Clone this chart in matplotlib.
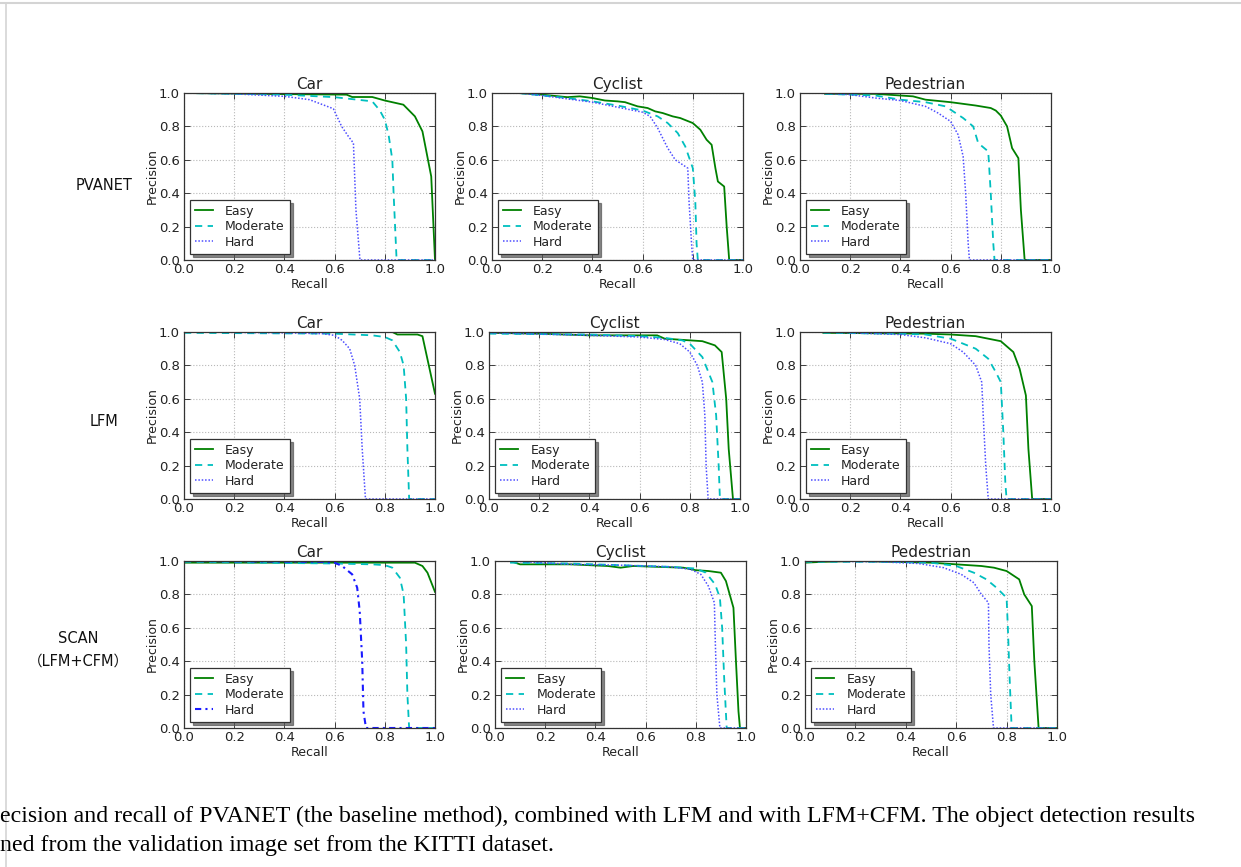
import matplotlib
matplotlib.use('Agg')
import matplotlib.pyplot as plt
from matplotlib.lines import Line2D

# Precision/recall curves, (recall, precision) pairs
# ---- PVANET ----
pvanet_car_easy = [(0, 1.0), (0.3, 0.995), (0.648, 0.99), (0.67, 0.976), (0.75, 0.976),
                   (0.8, 0.955), (0.874, 0.93), (0.92, 0.86), (0.95, 0.77), (0.985, 0.5), (1.0, 0.0)]
pvanet_car_mod = [(0, 1.0), (0.4, 0.99), (0.6, 0.975), (0.75, 0.95), (0.78, 0.896), (0.8, 0.84),
                  (0.815, 0.75), (0.83, 0.6), (0.835, 0.4), (0.847, 0.0), (1.0, 0.0)]
pvanet_car_hard = [(0, 1.0), (0.2, 0.995), (0.4, 0.98), (0.5, 0.96), (0.595, 0.906), (0.628, 0.8),
                   (0.655, 0.74), (0.675, 0.7), (0.685, 0.3), (0.701, 0.0), (1.0, 0.0)]

pvanet_cyc_easy = [(0.106, 1.0), (0.2, 0.99), (0.3, 0.975), (0.35, 0.98), (0.4, 0.97), (0.45, 0.955),
                   (0.5, 0.95), (0.53, 0.945), (0.58, 0.92), (0.62, 0.91), (0.65, 0.89), (0.68, 0.88),
                   (0.72, 0.86), (0.75, 0.85), (0.8, 0.82), (0.83, 0.78), (0.855, 0.72), (0.875, 0.69),
                   (0.89, 0.55), (0.9, 0.47), (0.925, 0.44), (0.935, 0.2), (0.945, 0.0), (1.0, 0.0)]
pvanet_cyc_mod = [(0.106, 1.0), (0.2, 0.985), (0.3, 0.97), (0.4, 0.95), (0.5, 0.925), (0.6, 0.895),
                  (0.66, 0.86), (0.7, 0.82), (0.74, 0.76), (0.77, 0.68), (0.8, 0.55), (0.81, 0.35),
                  (0.815, 0.1), (0.82, 0.0), (1.0, 0.0)]
pvanet_cyc_hard = [(0.106, 1.0), (0.2, 0.985), (0.3, 0.965), (0.4, 0.945), (0.5, 0.915), (0.6, 0.885),
                   (0.63, 0.86), (0.66, 0.79), (0.7, 0.67), (0.73, 0.6), (0.78, 0.55), (0.785, 0.35),
                   (0.795, 0.1), (0.8, 0.0), (1.0, 0.0)]

pvanet_ped_easy = [(0.1, 0.995), (0.3, 0.995), (0.4, 0.985), (0.45, 0.98), (0.5, 0.96), (0.6, 0.945),
                   (0.7, 0.925), (0.76, 0.91), (0.78, 0.895), (0.8, 0.865), (0.825, 0.8), (0.845, 0.67),
                   (0.87, 0.61), (0.88, 0.3), (0.895, 0.0), (1.0, 0.0)]
pvanet_ped_mod = [(0.1, 0.995), (0.3, 0.985), (0.4, 0.96), (0.5, 0.945), (0.58, 0.92), (0.65, 0.85),
                  (0.69, 0.8), (0.71, 0.7), (0.75, 0.65), (0.76, 0.4), (0.77, 0.1), (0.775, 0.0), (1.0, 0.0)]
pvanet_ped_hard = [(0.06, 1.0), (0.2, 0.99), (0.3, 0.97), (0.4, 0.955), (0.5, 0.92), (0.55, 0.88),
                   (0.6, 0.83), (0.63, 0.75), (0.65, 0.62), (0.66, 0.4), (0.67, 0.1), (0.675, 0.0), (1.0, 0.0)]

# ---- LFM ----
lfm_car_easy = [(0, 1.0), (0.83, 1.0), (0.85, 0.985), (0.93, 0.985), (0.95, 0.975), (1.0, 0.63)]
lfm_car_mod = [(0, 0.995), (0.6, 0.99), (0.75, 0.98), (0.8, 0.97), (0.83, 0.95), (0.86, 0.88),
               (0.875, 0.8), (0.885, 0.6), (0.89, 0.3), (0.897, 0.0), (1.0, 0.0)]
lfm_car_hard = [(0, 1.0), (0.4, 0.995), (0.55, 0.99), (0.6, 0.98), (0.63, 0.95), (0.66, 0.9),
                (0.68, 0.8), (0.7, 0.6), (0.71, 0.3), (0.723, 0.0), (1.0, 0.0)]

lfm_cyc_easy = [(0, 0.995), (0.2, 0.99), (0.4, 0.98), (0.6, 0.98), (0.67, 0.98), (0.7, 0.96),
                (0.8, 0.95), (0.85, 0.945), (0.9, 0.92), (0.927, 0.88), (0.945, 0.6), (0.955, 0.3),
                (0.972, 0.0), (1.0, 0.0)]
lfm_cyc_mod = [(0, 0.99), (0.4, 0.985), (0.6, 0.975), (0.7, 0.965), (0.77, 0.95), (0.8, 0.93),
               (0.85, 0.85), (0.89, 0.7), (0.905, 0.5), (0.915, 0.2), (0.92, 0.0), (1.0, 0.0)]
lfm_cyc_hard = [(0, 0.995), (0.4, 0.98), (0.6, 0.97), (0.7, 0.955), (0.76, 0.93), (0.8, 0.88),
                (0.83, 0.8), (0.85, 0.7), (0.86, 0.5), (0.865, 0.2), (0.873, 0.0), (1.0, 0.0)]

lfm_ped_easy = [(0.093, 0.995), (0.5, 0.99), (0.6, 0.985), (0.7, 0.975), (0.8, 0.945), (0.85, 0.88),
                (0.875, 0.78), (0.9, 0.62), (0.91, 0.3), (0.925, 0.0), (1.0, 0.0)]
lfm_ped_mod = [(0.093, 0.995), (0.4, 0.99), (0.5, 0.985), (0.6, 0.96), (0.7, 0.9), (0.75, 0.84),
               (0.78, 0.76), (0.8, 0.7), (0.81, 0.4), (0.818, 0.1), (0.823, 0.0), (1.0, 0.0)]
lfm_ped_hard = [(0.093, 1.0), (0.4, 0.985), (0.5, 0.965), (0.6, 0.93), (0.65, 0.88), (0.7, 0.8),
                (0.724, 0.7), (0.73, 0.5), (0.74, 0.2), (0.75, 0.0), (1.0, 0.0)]

# ---- SCAN (LFM+CFM) ----
scan_car_easy = [(0, 0.99), (0.5, 0.99), (0.92, 0.99), (0.95, 0.97), (0.97, 0.93), (1.0, 0.815)]
scan_car_mod = [(0, 0.995), (0.6, 0.985), (0.75, 0.98), (0.8, 0.975), (0.83, 0.96), (0.86, 0.9),
                (0.875, 0.8), (0.885, 0.5), (0.89, 0.2), (0.897, 0.0), (1.0, 0.0)]
scan_car_hard = [(0, 1.0), (0.55, 0.995), (0.6, 0.99), (0.63, 0.97), (0.67, 0.92), (0.69, 0.84),
                 (0.7, 0.7), (0.71, 0.4), (0.715, 0.1), (0.725, 0.0), (1.0, 0.0)]

scan_cyc_easy = [(0.06, 1.0), (0.1, 0.98), (0.3, 0.98), (0.45, 0.97), (0.5, 0.96), (0.55, 0.97),
                 (0.75, 0.96), (0.8, 0.945), (0.85, 0.94), (0.9, 0.93), (0.92, 0.88), (0.95, 0.72),
                 (0.96, 0.4), (0.97, 0.1), (0.976, 0.0), (1.0, 0.0)]
scan_cyc_mod = [(0.06, 0.99), (0.3, 0.985), (0.5, 0.975), (0.7, 0.965), (0.8, 0.955), (0.84, 0.93),
                (0.877, 0.86), (0.896, 0.78), (0.905, 0.6), (0.913, 0.3), (0.923, 0.0), (1.0, 0.0)]
scan_cyc_hard = [(0.06, 1.0), (0.3, 0.98), (0.5, 0.975), (0.7, 0.965), (0.78, 0.95), (0.82, 0.92),
                 (0.85, 0.85), (0.874, 0.75), (0.878, 0.5), (0.884, 0.2), (0.896, 0.0), (1.0, 0.0)]

scan_ped_easy = [(0, 0.99), (0.07, 0.995), (0.2, 1.0), (0.5, 0.99), (0.6, 0.98), (0.7, 0.97),
                 (0.75, 0.96), (0.8, 0.94), (0.82, 0.92), (0.85, 0.89), (0.87, 0.8), (0.9, 0.73),
                 (0.91, 0.4), (0.927, 0.0), (1.0, 0.0)]
scan_ped_mod = [(0, 0.995), (0.3, 0.995), (0.5, 0.99), (0.6, 0.97), (0.67, 0.93), (0.72, 0.89),
                (0.76, 0.84), (0.8, 0.78), (0.805, 0.6), (0.812, 0.3), (0.82, 0.0), (1.0, 0.0)]
scan_ped_hard = [(0, 1.0), (0.3, 0.995), (0.45, 0.985), (0.55, 0.96), (0.62, 0.92), (0.67, 0.87),
                 (0.7, 0.8), (0.728, 0.75), (0.73, 0.5), (0.737, 0.2), (0.748, 0.0), (1.0, 0.0)]

classes = ['Car', 'Cyclist', 'Pedestrian']
methods = ['PVANET', 'LFM', 'SCAN\n（LFM+CFM）']
levels = ['Easy', 'Moderate', 'Hard']
curves = [
    [(pvanet_car_easy, pvanet_car_mod, pvanet_car_hard),
     (pvanet_cyc_easy, pvanet_cyc_mod, pvanet_cyc_hard),
     (pvanet_ped_easy, pvanet_ped_mod, pvanet_ped_hard)],
    [(lfm_car_easy, lfm_car_mod, lfm_car_hard),
     (lfm_cyc_easy, lfm_cyc_mod, lfm_cyc_hard),
     (lfm_ped_easy, lfm_ped_mod, lfm_ped_hard)],
    [(scan_car_easy, scan_car_mod, scan_car_hard),
     (scan_cyc_easy, scan_cyc_mod, scan_cyc_hard),
     (scan_ped_easy, scan_ped_mod, scan_ped_hard)],
]
ticks = [0.0, 0.2, 0.4, 0.6, 0.8, 1.0]
caption = ['ecision and recall of PVANET (the baseline method), combined with LFM and with LFM+CFM. '
           'The object detection results',
           'ned from the validation image set from the KITTI dataset.']

# Layout (pixels): left, top, right, bottom of every panel
W, H = 1241, 867
boxes = [
    [(184, 93, 435, 260), (492, 93, 743, 260), (800, 93, 1051, 260)],
    [(184, 332, 435, 499), (489, 332, 740, 499), (800, 332, 1051, 499)],
    [(184, 561, 435, 728), (495, 561, 746, 728), (805, 561, 1057, 728)],
]
label_pos = [(104, 186), (104, 422), (78, 650)]

fig = plt.figure(figsize=(W / 100, H / 100), dpi=100)
fig.patch.set_facecolor('white')

text_col = '#222222'
for i in range(3):
    for j in range(3):
        l, t, r, b = boxes[i][j]
        ax = fig.add_axes([l / W, 1 - b / H, (r - l) / W, (b - t) / H])
        easy, mod, hard = curves[i][j]
        ax.plot([p[0] for p in easy], [p[1] for p in easy], color='#008000', lw=1.3, label=levels[0])
        ax.plot([p[0] for p in mod], [p[1] for p in mod], color='#00bfbf', lw=1.3,
                ls=(0, (4, 3)), label=levels[1])
        if i == 2 and j == 0:
            ax.plot([p[0] for p in hard], [p[1] for p in hard], color='#1a1aff', lw=1.5,
                    ls=(0, (3, 2, 1, 2)), label=levels[2])
        else:
            ax.plot([p[0] for p in hard], [p[1] for p in hard], color='#4d4dff', lw=1.1,
                    ls=(0, (1, 1.2)), label=levels[2])
        ax.set_xlim(0, 1)
        ax.set_ylim(0, 1)
        ax.set_xticks(ticks)
        ax.set_yticks(ticks)
        ax.set_xticklabels(['%.1f' % v for v in ticks])
        ax.set_yticklabels(['%.1f' % v for v in ticks])
        ax.grid(True, color='#b8b8b8', ls=':', lw=0.8)
        ax.tick_params(direction='in', top=True, right=True, length=4, width=0.6,
                       labelsize=9.5, colors=text_col)
        ax.tick_params(axis='x', pad=2)
        ax.tick_params(axis='y', pad=3)
        for s in ax.spines.values():
            s.set_color('#333333')
            s.set_linewidth(0.9)
        ax.set_title(classes[j], fontsize=11, color=text_col, pad=3)
        ax.set_xlabel('Recall', fontsize=9, color=text_col, labelpad=1.5)
        ax.set_ylabel('Precision', fontsize=9, color=text_col, labelpad=0)
        leg = ax.legend(loc='lower left', fontsize=9, fancybox=False,
                        shadow={'color': '#555555', 'alpha': 0.7},
                        handlelength=1.4, handletextpad=1.0, labelspacing=0.2,
                        borderpad=0.4, borderaxespad=0.5, framealpha=1)
        leg.get_frame().set_edgecolor('#333333')
        leg.get_frame().set_linewidth(0.9)
        for txt in leg.get_texts():
            txt.set_color(text_col)

# Method names on the left of each row
for k in range(3):
    x, y = label_pos[k]
    fig.text(x / W, 1 - y / H, methods[k], ha='center', va='center', fontsize=10.5,
             color='#111111', linespacing=1.6, family=['DejaVu Sans', 'Noto Sans CJK SC'])

# Caption under the figure (cut off on the left in the source)
fig.text(0.0, 1 - 816 / H, caption[0], ha='left', va='center', fontsize=17.2,
         family='Liberation Serif', color='black')
fig.text(0.0, 1 - 845 / H, caption[1], ha='left', va='center', fontsize=17.2,
         family='Liberation Serif', color='black')

# Light frame lines along the top and left edges
fig.add_artist(Line2D([0, 1], [1 - 3 / H, 1 - 3 / H], transform=fig.transFigure,
                      color='#d4d4d4', lw=1.5))
fig.add_artist(Line2D([5.5 / W, 5.5 / W], [0, 1 - 3 / H], transform=fig.transFigure,
                      color='#d4d4d4', lw=1.2))

fig.savefig('out.png', dpi=100, facecolor='white')
